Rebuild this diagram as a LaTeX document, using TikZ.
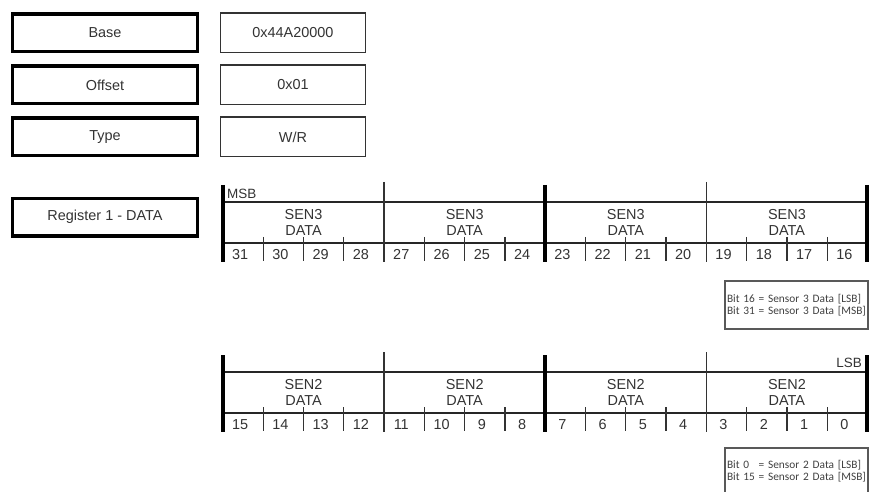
\documentclass[tikz,border=0pt]{standalone}
\usepackage{fontspec}
\setmainfont{Liberation Sans}
\newfontfamily\notefont{Carlito}
\usetikzlibrary{positioning}

\begin{document}
\begin{tikzpicture}[x=1bp,y=-1bp,
labelbox/.style={draw=black,line width=3.5bp,minimum width=184.5bp,minimum height=37.5bp,inner sep=0pt,font=\fontsize{14.5}{16}\selectfont,text=black!80},
valuebox/.style={draw=black!80,line width=1.4bp,minimum width=144.5bp,minimum height=39.6bp,inner sep=0pt,font=\fontsize{14.5}{16}\selectfont,text=black!80},
notebox/.style={draw=black!65,line width=2bp,minimum width=143bp,minimum height=47bp,inner xsep=2bp,text width=139bp,align=left,font=\notefont\fontsize{11.4}{12}\selectfont,text=black!75},
fieldtext/.style={align=center,font=\fontsize{14.5}{16}\selectfont,text=black!80},
bittext/.style={anchor=base,inner sep=0pt,font=\fontsize{14.5}{16}\selectfont,text=black!80}]
\useasboundingbox (0,0) rectangle (870,492);
\def\bw{40.28}
\node[labelbox] (base) at (105,33) {Base};
\node[labelbox,below=11bp of base] (offset) {Offset};
\node[labelbox,below=11bp of offset] (type) {Type};
\node[labelbox,below=39bp of type] (reg) {Register 1 - DATA};
\node[valuebox,right=21bp of base] (baseval) {0x44A20000};
\node[valuebox,right=21bp of offset] (offsetval) {0x01};
\node[valuebox,right=21bp of type] (typeval) {W/R};
\foreach \r/\yo/\sen in {0/0/3,1/170/2}{
\begin{scope}[shift={(0,\yo)}]
\draw[line width=1.4bp,black!85](223,202)--(867.5,202)
(223,243)--(867.5,243);
\foreach \q in {0,2,4}
\draw[line width=4bp](223+4*\q*\bw,185)--(223+4*\q*\bw,262);
\foreach \q in {1,3}
\draw[line width=1.3bp,black!80](223+4*\q*\bw,182)--(223+4*\q*\bw,262);
\foreach \q in {0,...,3}{
\foreach \t in {1,2,3}
\draw[line width=1.3bp,black!80](223+4*\q*\bw+\t*\bw,237)--(223+4*\q*\bw+\t*\bw,261);
\node[fieldtext] (sen\r\q) at (223+4*\q*\bw+2*\bw,222) {SEN\sen\\DATA};
}
\foreach \k in {0,...,15}{
\pgfmathtruncatemacro\bitno{31-16*\r-\k}
\node[bittext] (bit\bitno) at (223+\k*\bw+\bw/2-3,259.5) {\bitno};
}
\end{scope}
}
\node[bittext,anchor=base west,font=\fontsize{13.5}{15}\selectfont] (msb) at (227,198.5) {MSB};
\node[bittext,anchor=base east,font=\fontsize{13.5}{15}\selectfont] (lsb) at (862,367.5) {LSB};
\node[notebox] (note3) at (796.5,305) {Bit 16 = Sensor 3 Data [LSB]\\Bit 31 = Sensor 3 Data [MSB]};
\node[notebox] (note2) at (796.5,471.5) {Bit 0\hphantom{1} = Sensor 2 Data [LSB]\\Bit 15 = Sensor 2 Data [MSB]};
\end{tikzpicture}
\end{document}
